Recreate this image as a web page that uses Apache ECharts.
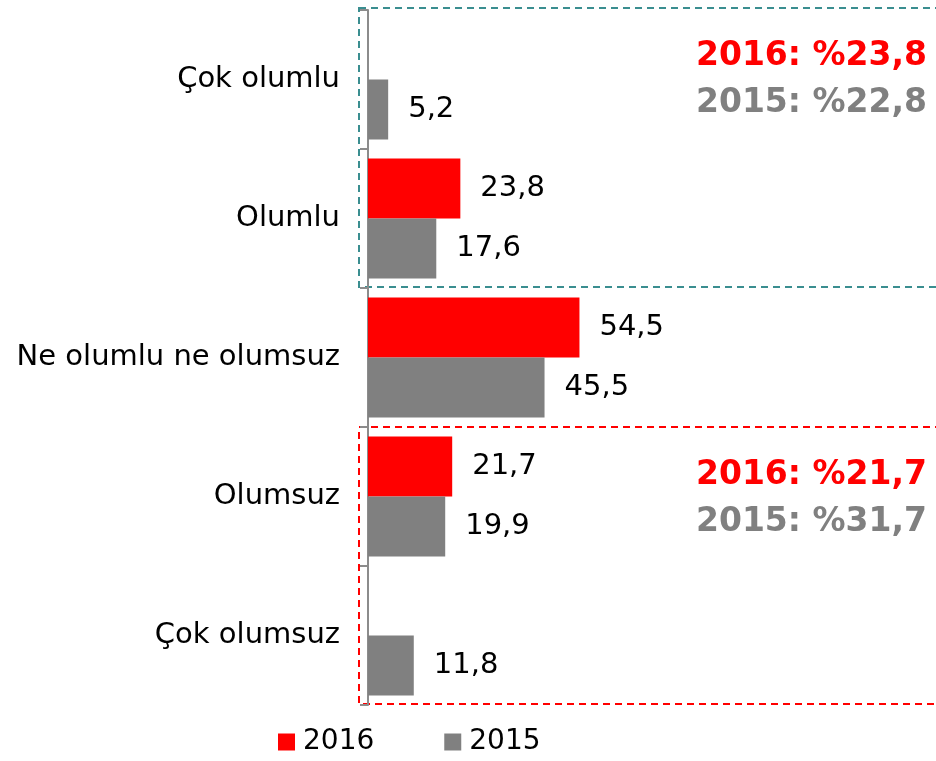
<!DOCTYPE html>
<html>
<head>
<meta charset="utf-8">
<script src="https://cdn.jsdelivr.net/npm/echarts@6/dist/echarts.min.js"></script>
<style>
html,body{margin:0;padding:0;background:#fff;}
#chart{width:936px;height:761px;}
</style>
</head>
<body>
<div id="chart"></div>
<script>
const categories = ['Çok olumlu', 'Olumlu', 'Ne olumlu ne olumsuz', 'Olumsuz', 'Çok olumsuz'];
const values2016 = [null, 23.8, 54.5, 21.7, null];
const values2015 = [5.2, 17.6, 45.5, 19.9, 11.8];
const seriesNames = ['2016', '2015'];
const notePositive = ['2016: %23,8', '2015: %22,8'];
const noteNegative = ['2016: %21,7', '2015: %31,7'];

const FONT = 'DejaVu Sans';
const RED = '#ff0000';
const GRAY = '#808080';
const TEAL = '#3a8e90';

const fmt = p => p.value == null ? '' : p.value.toFixed(1).replace('.', ',');

const chart = echarts.init(document.getElementById('chart'), null, {renderer: 'canvas'});
const option = {
  animation: false,
  backgroundColor: '#fff',
  textStyle: {fontFamily: FONT},
  grid: {left: 368, top: 10, bottom: 56, width: 388, containLabel: false},
  legend: {
    data: seriesNames,
    left: 278, top: 728, padding: 0,
    icon: 'rect', itemWidth: 17, itemHeight: 17, itemGap: 70,
    textStyle: {fontFamily: FONT, fontSize: 28, color: '#000', padding: [0, 0, 0, 3]}
  },
  xAxis: {
    type: 'value', min: 0, max: 100, show: false
  },
  yAxis: {
    type: 'category', data: categories, inverse: true,
    axisLine: {show: true, lineStyle: {color: '#8c8c8c', width: 2}},
    axisTick: {show: true, length: 8, lineStyle: {color: '#8c8c8c', width: 2}},
    axisLabel: {fontFamily: FONT, fontSize: 29, color: '#000', margin: 28},
    splitLine: {show: false}
  },
  series: [
    {
      name: seriesNames[0], type: 'bar', data: values2016,
      barWidth: 60, barGap: '0%',
      itemStyle: {color: RED},
      label: {show: true, position: 'right', distance: 20, formatter: fmt,
              fontFamily: FONT, fontSize: 29, color: '#000'}
    },
    {
      name: seriesNames[1], type: 'bar', data: values2015,
      barWidth: 60, barGap: '0%',
      itemStyle: {color: GRAY},
      label: {show: true, position: 'right', distance: 20, formatter: fmt,
              fontFamily: FONT, fontSize: 29, color: '#000'}
    }
  ]
};
chart.setOption(option);

// Annotation boxes computed from the axis scale
const axisX = chart.convertToPixel({xAxisIndex: 0}, 0);
const c0 = chart.convertToPixel({yAxisIndex: 0}, categories[0]);
const c1 = chart.convertToPixel({yAxisIndex: 0}, categories[1]);
const band = c1 - c0;
const edge = i => chart.convertToPixel({yAxisIndex: 0}, categories[i]) - band / 2;
const boxLeft = axisX - 9;
const boxW = 936 - boxLeft + 10;

const posTop = edge(0) - 2, posBot = edge(2) - 1;
const negTop = edge(3), negBot = edge(4) + band - 1;

function noteTexts(list, top) {
  return list.map((t, i) => ({
    type: 'text', right: 9, top: top + 32 + i * 47,
    style: {text: t, fill: i === 0 ? RED : GRAY, font: 'bold 33px "DejaVu Sans"',
            textAlign: 'right'}
  }));
}

chart.setOption({
  graphic: [
    {type: 'rect', shape: {x: boxLeft, y: posTop, width: boxW, height: posBot - posTop},
     style: {fill: null, stroke: TEAL, lineWidth: 2, lineDash: [7, 5]}, silent: true},
    {type: 'rect', shape: {x: boxLeft, y: negTop, width: boxW, height: negBot - negTop},
     style: {fill: null, stroke: RED, lineWidth: 2, lineDash: [7, 5]}, silent: true},
    ...noteTexts(notePositive, posTop),
    ...noteTexts(noteNegative, negTop)
  ]
});
</script>
</body>
</html>
